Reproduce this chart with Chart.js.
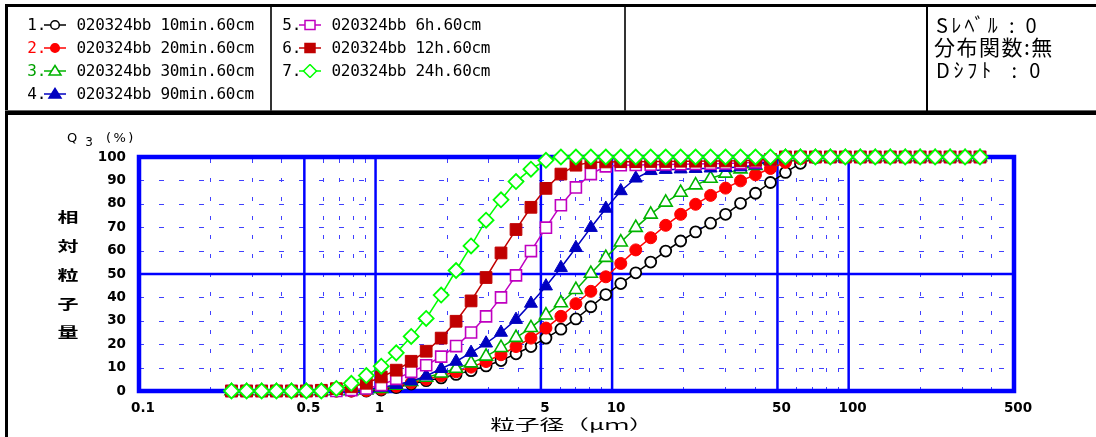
<!DOCTYPE html>
<html><head><meta charset="utf-8">
<script src="https://cdn.jsdelivr.net/npm/chart.js@4.4.1/dist/chart.umd.min.js"></script>
<style>
html,body{margin:0;padding:0;background:#fff;width:1096px;height:437px;overflow:hidden;position:relative;}
#c{position:absolute;left:0;top:0;}
.abs{position:absolute;white-space:pre;color:#000;line-height:20px;}
.bar{position:absolute;background:#000;}
.leg{font-family:"DejaVu Sans Mono",monospace;font-size:16px;letter-spacing:-0.3px;}
.info{font-family:"Noto Sans CJK JP",sans-serif;font-size:20px;line-height:22px;}
.ylab{font-family:"Noto Sans CJK JP",sans-serif;font-size:14px;font-weight:bold;line-height:16px;transform:scaleX(1.5);transform-origin:center;width:20px;text-align:center;}
</style></head><body>
<canvas id="c" width="1096" height="437"></canvas>
<div id="ov"></div>
<script>
// ---- data ----
const SIZES_UM = [0.246,0.285,0.330,0.381,0.441,0.510,0.590,0.683,0.790,0.914,
  1.057,1.223,1.415,1.637,1.894,2.190,2.534,2.932,3.391,3.924,
  4.539,5.252,6.075,7.029,8.131,9.406,10.88,12.59,14.56,16.85,
  19.49,22.54,26.08,30.17,34.91,40.38,46.71,54.04,62.52,72.33,
  83.67,96.79,112.0,129.5,149.9,173.4,200.5,232.0,268.4,310.5,359.2];
const S1_10MIN = [0,0,0,0,0,0,0,0,0,0,
  0.4,1.5,3.0,4.4,5.6,7.1,8.7,10.7,13.0,15.9,
  19.0,22.6,26.4,30.8,36.0,41.2,45.9,50.5,55.1,59.8,
  64.1,68.0,71.7,75.5,80.2,84.5,89.1,93.4,97.3,99.7,
  100,100,100,100,100,100,100,100,100,100,100];
const S2_20MIN = [0,0,0,0,0,0,0,0,0,0.2,
  0.8,2.0,3.5,5.0,6.5,8.2,10.2,12.6,15.5,19.0,
  22.6,26.9,31.9,37.3,42.6,48.8,54.5,60.3,65.5,70.8,
  75.5,79.8,83.6,86.7,89.8,92.4,95.1,97.7,99.3,100,
  100,100,100,100,100,100,100,100,100,100,100];
const S3_30MIN = [0,0,0,0,0,0,0,0,0,0.3,
  1.0,2.4,4.0,5.8,7.6,9.6,11.9,14.8,18.5,22.8,
  27.0,32.4,37.6,43.3,50.2,57.0,63.6,69.8,75.5,80.6,
  84.8,88.0,90.8,93.0,94.8,96.3,98.4,100,100,100,
  100,100,100,100,100,100,100,100,100,100,100];
const S4_90MIN = [0,0,0,0,0,0,0,0,0.2,0.6,
  1.5,2.7,4.2,6.4,9.5,12.6,16.4,20.4,25.0,30.5,
  37.4,44.8,52.7,61.2,69.8,78.0,85.5,90.9,94.1,94.6,
  94.8,95.0,95.2,95.4,95.7,96.5,98.5,100,100,100,
  100,100,100,100,100,100,100,100,100,100,100];
const S5_6H = [0,0,0,0,0,0,0,0,0.4,1.1,
  2.6,5.2,8.2,11.0,14.7,19.2,25.0,31.9,40.0,49.4,
  59.8,69.8,79.4,87.0,92.7,96.0,96.5,96.6,96.7,96.8,
  96.9,97.0,97.1,97.2,97.4,97.8,98.8,100,100,100,
  100,100,100,100,100,100,100,100,100,100,100];
const S6_12H = [0,0,0,0,0,0,0.3,1.0,1.8,3.3,
  6.0,8.9,12.7,17.0,22.6,29.8,38.5,48.5,59.0,69.0,
  78.5,86.6,92.7,96.5,97.7,97.9,98.0,98.0,98.1,98.1,
  98.2,98.2,98.3,98.3,98.4,98.6,99.0,100,100,100,
  100,100,100,100,100,100,100,100,100,100,100];
const S7_24H = [0,0,0,0,0,0,0,1.1,3.3,6.6,
  10.6,16.3,23.3,31.0,41.0,51.5,62.0,73.0,81.7,89.5,
  94.8,98.6,100,100,100,100,100,100,100,100,
  100,100,100,100,100,100,100,100,100,100,
  100,100,100,100,100,100,100,100,100,100,100];
const SERIES_VALUES = [S1_10MIN,S2_20MIN,S3_30MIN,S4_90MIN,S5_6H,S6_12H,S7_24H];
const SERIES_NAMES = ['020324bb 10min.60cm','020324bb 20min.60cm','020324bb 30min.60cm','020324bb 90min.60cm',
  '020324bb 6h.60cm','020324bb 12h.60cm','020324bb 24h.60cm'];
const X_TICKS = [0.1,0.5,1,5,10,50,100,500];
const X_TICK_LABELS = ['0.1','0.5','1','5','10','50','100','500'];
const X_MAJOR_GRID = [0.5,1,5,10,50,100];
const X_MINOR_GRID = [0.2,0.3,0.4,0.6,0.7,0.8,0.9,2,3,4,6,7,8,9,20,30,40,60,70,80,90,200,300,400];
const Y_MAJOR_GRID = [50];
const Y_MINOR_GRID = [10,20,30,40,60,70,80,90];
const X_TITLE = '粒子径（μｍ）';
const Y_TITLE_CHARS = ['相','対','粒','子','量'];
const INFO_LINES = ['Sﾚﾍﾞﾙ : 0','分布関数:無','Dｼﾌﾄ  : 0'];

// ---- styles ----
const STYLES = [
  {color:'#000000', fill:'#ffffff', shape:'circle',   r:5.5, bw:1.8, num:'#000'},
  {color:'#ff0000', fill:'#ff0000', shape:'circle',   r:6,   bw:1,   num:'#ff0000'},
  {color:'#00b400', fill:'#ffffff', shape:'triangle', r:7.5, bw:1.6, num:'#00a000'},
  {color:'#0000c0', fill:'#0000c0', shape:'triangle', r:7.5, bw:1,   num:'#000'},
  {color:'#c000c0', fill:'#ffffff', shape:'rect',     r:7.8, bw:1.6, num:'#000'},
  {color:'#c00000', fill:'#c00000', shape:'rect',     r:8.3, bw:1,   num:'#000'},
  {color:'#00ff00', fill:'#ffffff', shape:'rectRot',  r:7.5, bw:1.8, num:'#000'}
];

const gridPlugin = {
  id:'gridPlugin',
  beforeDatasetsDraw(chart){
    const {ctx, chartArea:{left,right,top,bottom}, scales:{x,y}} = chart;
    ctx.save();
    ctx.lineWidth = 1;
    ctx.strokeStyle = '#4040ff';
    ctx.setLineDash([5,15]);
    Y_MINOR_GRID.forEach(v=>{ const py=Math.round(y.getPixelForValue(v))+0.5;
      ctx.beginPath(); ctx.moveTo(left,py); ctx.lineTo(right,py); ctx.stroke(); });
    ctx.setLineDash([4,15]);
    X_MINOR_GRID.forEach(v=>{ const px=Math.round(x.getPixelForValue(v))+0.5;
      ctx.beginPath(); ctx.moveTo(px,bottom); ctx.lineTo(px,top); ctx.stroke(); });
    ctx.setLineDash([]);
    ctx.strokeStyle = '#0000ff';
    ctx.lineWidth = 2.5;
    X_MAJOR_GRID.forEach(v=>{ const px=x.getPixelForValue(v);
      ctx.beginPath(); ctx.moveTo(px,bottom); ctx.lineTo(px,top); ctx.stroke(); });
    Y_MAJOR_GRID.forEach(v=>{ const py=y.getPixelForValue(v);
      ctx.beginPath(); ctx.moveTo(left,py); ctx.lineTo(right,py); ctx.stroke(); });
    ctx.lineWidth = 4.5;
    ctx.strokeRect(left,top,right-left,bottom-top);
    ctx.restore();
  }
};

const tickFont = {family:'DejaVu Sans', size:13.5, weight:'bold'};
const datasets = SERIES_VALUES.map((vals,k)=>{
  const s = STYLES[k];
  return {
    label: SERIES_NAMES[k],
    data: SIZES_UM.map((xv,i)=>({x:xv, y:vals[i]})),
    borderColor: s.color, borderWidth: 1.5,
    pointStyle: s.shape, pointRadius: s.r, pointHoverRadius: s.r,
    pointBackgroundColor: s.fill, pointBorderColor: s.color, pointBorderWidth: s.bw,
    tension: 0, fill: false, clip: false, order: 6-k
  };
});

new Chart(document.getElementById('c'), {
  type:'line',
  data:{datasets},
  options:{
    responsive:false, animation:false, events:[],
    layout:{padding:{left:80,right:82,top:157,bottom:0}},
    plugins:{legend:{display:false}, tooltip:{enabled:false}},
    scales:{
      x:{type:'logarithmic', min:0.1, max:500,
        grid:{display:false, drawTicks:false}, border:{display:false},
        afterBuildTicks:(s)=>{ s.ticks = X_TICKS.map(v=>({value:v})); },
        afterFit:(s)=>{ s.height = 46; },
        ticks:{autoSkip:false, maxRotation:0, padding:9, labelOffset:4, color:'#000', font:tickFont,
          callback:(v,i)=>X_TICK_LABELS[i]}},
      y:{min:0, max:100,
        grid:{display:false, drawTicks:false}, border:{display:false},
        afterFit:(s)=>{ s.width = 59; },
        ticks:{stepSize:10, padding:13, color:'#000', font:tickFont}}
    }
  },
  plugins:[gridPlugin]
});

// ---- overlay (legend panel, labels) ----
const ov = document.getElementById('ov');
function el(cls, css, text){ const d=document.createElement('div'); d.className=cls; Object.assign(d.style, css); if(text!==undefined) d.textContent=text; ov.appendChild(d); return d; }
// frame lines
el('bar',{left:'5px',top:'4px',width:'1091px',height:'3px'});
el('bar',{left:'5px',top:'4px',width:'3px',height:'433px'});
el('bar',{left:'5px',top:'110px',width:'1091px',height:'1px',background:'#666'});
el('bar',{left:'5px',top:'111px',width:'1091px',height:'4px'});
el('bar',{left:'269.5px',top:'7px',width:'2px',height:'104px',background:'#333'});
el('bar',{left:'623.5px',top:'7px',width:'2px',height:'104px',background:'#333'});
el('bar',{left:'925.5px',top:'7px',width:'2.5px',height:'104px'});

function markerSvg(s){
  const c=s.color, f=s.fill;
  let m='';
  if(s.shape==='circle') m=`<circle cx="11" cy="7" r="4.3" fill="${f}" stroke="${c}" stroke-width="1.5"/>`;
  else if(s.shape==='triangle') m=`<polygon points="11,1.5 17,11 5,11" fill="${f}" stroke="${c}" stroke-width="1.5"/>`;
  else if(s.shape==='rect') m=`<rect x="6" y="2.5" width="10" height="9" fill="${f}" stroke="${c}" stroke-width="1.5"/>`;
  else m=`<polygon points="11,0.5 17.5,7 11,13.5 4.5,7" fill="${f}" stroke="${c}" stroke-width="1.5"/>`;
  return `<svg width="22" height="14" xmlns="http://www.w3.org/2000/svg"><line x1="0" y1="7" x2="22" y2="7" stroke="${c}" stroke-width="1.5"/>${m}</svg>`;
}
const ROW_Y = [25,48,71,94];
SERIES_NAMES.forEach((name,k)=>{
  const col = k<4?0:1, row = k<4?k:k-4;
  const cy = ROW_Y[row];
  const nx = col===0?26:281, sx = col===0?44:299, tx = col===0?76.5:331.5;
  el('abs leg',{left:nx+'px',top:(cy-10)+'px',width:'20px',textAlign:'right',color:STYLES[k].num},(k+1)+'.');
  const sv = el('abs',{left:sx+'px',top:(cy-7)+'px',width:'22px',height:'14px',lineHeight:'0'});
  sv.innerHTML = markerSvg(STYLES[k]);
  el('abs leg',{left:tx+'px',top:(cy-10)+'px'},name);
});
// info box
el('abs info',{left:'936px',top:'14px',letterSpacing:'3.3px'},INFO_LINES[0]);
el('abs info',{left:'934px',top:'35px',fontSize:'21px',letterSpacing:'1.5px'},INFO_LINES[1]);
el('abs info',{left:'936px',top:'59px',letterSpacing:'3.8px'},INFO_LINES[2]);
// y title
const q = el('abs',{left:'67px',top:'130px',fontFamily:'DejaVu Sans',fontSize:'13px',lineHeight:'16px'});
q.innerHTML = 'Q<span style="font-size:12px;position:relative;top:4px;margin-left:8px;">3</span><span style="margin-left:13px;letter-spacing:2.5px;">(%)</span>';
const YC=[215.7,245,274,303,330.7];
Y_TITLE_CHARS.forEach((ch,i)=>{ el('abs ylab',{left:'58px',top:(YC[i]-8)+'px'},ch); });
// x title
el('abs',{left:'572px',top:'415px',fontFamily:'Noto Sans CJK JP',fontSize:'14.5px',lineHeight:'18px',transform:'translateX(-50%) scaleX(1.7)',transformOrigin:'center'},X_TITLE);
</script>
</body></html>
